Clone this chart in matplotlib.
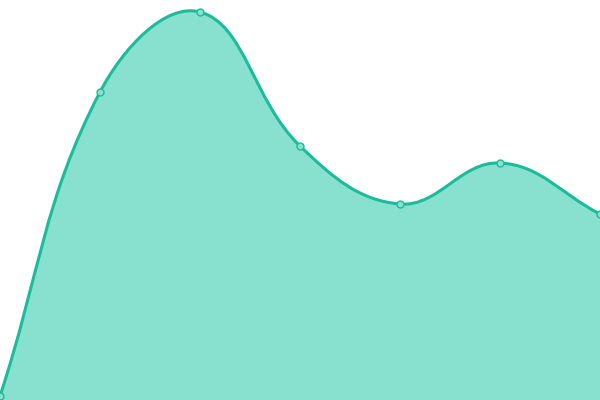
import numpy as np
import matplotlib
matplotlib.use('Agg')
import matplotlib.pyplot as plt
from matplotlib.path import Path
from matplotlib.patches import PathPatch

# data (x = index position, y = value on a 0..400 scale)
labels = [0, 1, 2, 3, 4, 5, 6]
values = [4, 308, 388, 254, 196, 237, 186]

line_color = '#1abc9c'
fill_color = '#88e0cf'

fig = plt.figure(figsize=(6, 4), dpi=100)
ax = fig.add_axes([0, 0, 1, 1])
ax.set_xlim(0, 6)
ax.set_ylim(0, 400)
ax.axis('off')

# bezier control points like chart.js (tension 0.4), worked out in pixel space
pts = ax.transData.transform(np.column_stack([labels, values]))
t = 0.4
n = len(pts)
cp_prev = []
cp_next = []
for i in range(n):
    p0 = pts[max(i - 1, 0)]
    p1 = pts[i]
    p2 = pts[min(i + 1, n - 1)]
    d01 = np.hypot(*(p1 - p0))
    d12 = np.hypot(*(p2 - p1))
    s01 = d01 / (d01 + d12) if d01 + d12 else 0
    s12 = d12 / (d01 + d12) if d01 + d12 else 0
    cp_prev.append(p1 - t * s01 * (p2 - p0))
    cp_next.append(p1 + t * s12 * (p2 - p0))

verts = [pts[0]]
codes = [Path.MOVETO]
for i in range(n - 1):
    verts += [cp_next[i], cp_prev[i + 1], pts[i + 1]]
    codes += [Path.CURVE4] * 3
inv = ax.transData.inverted()
verts = inv.transform(np.array(verts))

line_path = Path(verts, codes)
fill_verts = np.vstack([verts, [[labels[-1], 0], [labels[0], 0], verts[0]]])
fill_codes = codes + [Path.LINETO, Path.LINETO, Path.CLOSEPOLY]
fill_path = Path(fill_verts, fill_codes)

ax.add_patch(PathPatch(fill_path, facecolor=fill_color, edgecolor='none', zorder=1))
ax.add_patch(PathPatch(line_path, facecolor='none', edgecolor=line_color, lw=2.2, zorder=2))
ax.plot(labels, values, 'o', ms=5, mfc=fill_color, mec=line_color, mew=1, zorder=3, clip_on=False)

fig.savefig('out.png', dpi=100)
